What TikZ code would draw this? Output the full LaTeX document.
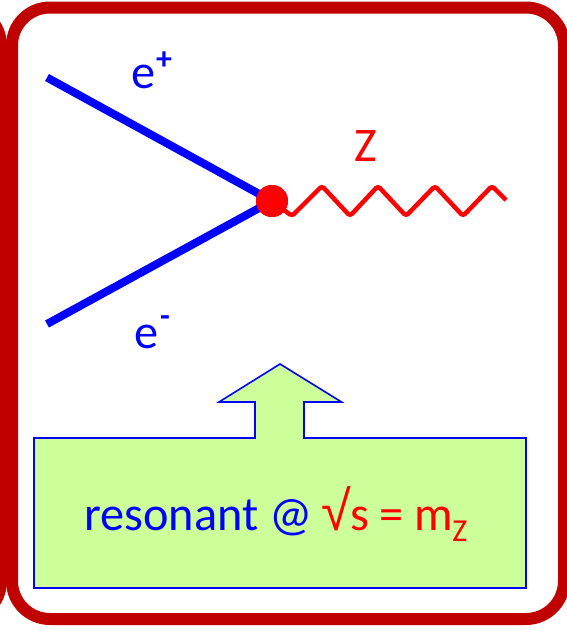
\documentclass[tikz,border=0pt]{standalone}
\usepackage{fontspec}
\setmainfont{Carlito}
\newfontfamily\rootfont{Liberation Sans}
\definecolor{frame}{RGB}{192,0,0}
\definecolor{lime}{RGB}{204,255,153}
\definecolor{elec}{RGB}{0,0,255}
\definecolor{zred}{RGB}{255,0,0}
\newcommand{\upidx}[2]{\raisebox{#1}{\fontsize{32}{36}\selectfont\bfseries #2}}
\newcommand{\dnidx}[1]{\raisebox{-11pt}{\fontsize{32}{36}\selectfont #1}}
\tikzset{
 x=1pt,y=-1pt,
 lab/.style={inner sep=0pt,font=\fontsize{48.3}{56}\selectfont},
 fermion/.style={elec,line width=8pt},
 framepath/.style={frame,line width=12pt,rounded corners=38pt},
 boxline/.style={elec,line width=1.6pt,fill=lime,line join=miter}
}
\begin{document}
\begin{tikzpicture}
\useasboundingbox (0,0) rectangle (567,630);
\fill[white] (0,0) rectangle (567,630);
\begin{scope}
\clip (0,0) rectangle (567,630);
\draw[framepath] (-300,7.5) rectangle (1,619);
\draw[framepath] (12,7.5) rectangle (564,619);
\end{scope}
\coordinate (p1) at (47,77.5);
\coordinate (p2) at (47,324);
\node[circle,fill=zred,minimum size=32pt,inner sep=0pt] (v) at (272,201) {};
\draw[fermion] (p1) -- (v.center);
\draw[fermion] (p2) -- (v.center);
\coordinate (zend) at (506,200);
\draw[zred,line width=4.5pt,rounded corners=3pt] (v.center) -- (292,216) -- (322,186) -- (350,216) -- (378,186) -- (406,216) -- (435,186) -- (463,216) -- (492,186) -- (zend);
\node[circle,fill=zred,minimum size=32pt,inner sep=0pt] at (272,201) {};
\draw[boxline] (34,438) -- (255,438) -- (255,402) -- (219,402) -- (280,364) -- (341.5,402) -- (304,402) -- (304,438) -- (526,438) -- (526,588) -- (34,588) -- cycle;
\node[lab,elec,anchor=base west] (ep) at (131,88) {e\kern1pt\upidx{19pt}{+}};
\node[lab,elec,anchor=base west] (em) at (134,348.5) {e\kern2pt\upidx{22pt}{-}};
\node[lab,zred,anchor=base west] (z) at (354,161) {Z};
\node[lab,anchor=base west] (t) at (84,530) {\textcolor{elec}{resonant @ }\textcolor{zred}{\kern-2pt\scalebox{1.12}[1.15]{\rootfont √}\kern-1pt s = m\kern-1pt\dnidx{Z}}};
\end{tikzpicture}
\end{document}
